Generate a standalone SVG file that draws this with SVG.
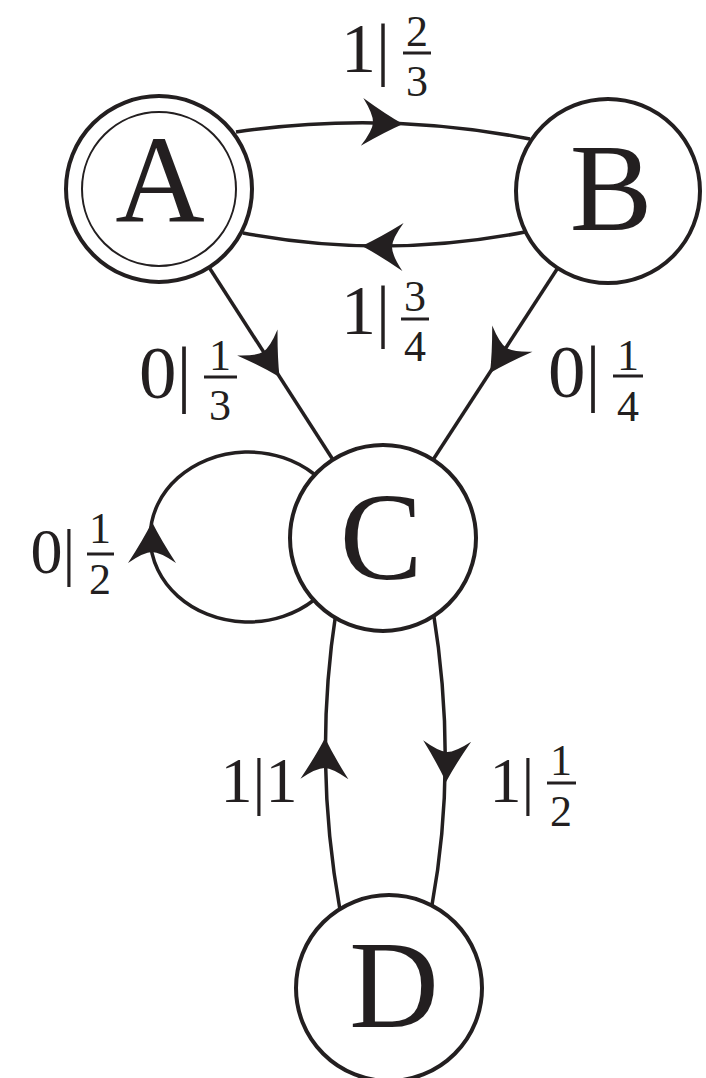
<svg xmlns="http://www.w3.org/2000/svg" xmlns:xlink="http://www.w3.org/1999/xlink" width="706" height="1078" viewBox="0 0 706 1078">
<style>
.node{fill:#fff;stroke:#231f20;stroke-width:4}
.inner{fill:none;stroke:#231f20;stroke-width:2}
.nl{font-family:"Liberation Serif",serif;font-size:124px;fill:#231f20;text-anchor:middle}
.edge{fill:none;stroke:#231f20;stroke-width:3.5}
.ah{fill:#231f20}
.lbl{font-family:"Liberation Serif",serif;font-size:70px;fill:#231f20}
.lbb{font-family:"Liberation Serif",serif;font-size:75px;fill:#231f20}
.lbs{font-family:"Liberation Serif",serif;font-size:64px;fill:#231f20}
.fr{font-family:"Liberation Serif",serif;font-size:44px;fill:#231f20;text-anchor:middle}
.fb{stroke:#231f20;stroke-width:3}
</style>
<defs>
<path id="ah" d="M0,0 Q-18,-9 -41,-24 Q-30,-8 -30,0 Q-30,8 -41,24 Q-18,9 0,0 Z"/>
</defs>
<rect width="706" height="1078" fill="#fff"/>
<g id="connectors">
<path class="edge" d="M236,132 Q383,110.5 530,139"/>
<path class="edge" d="M525,232 Q384,259.5 243,233"/>
<path class="edge" d="M205,261 L337,466"/>
<path class="edge" d="M561,263 L429,466"/>
<path class="edge" d="M314,474 A98 85 0 1 0 314,600"/>
<path class="edge" d="M433,610 Q458,763 432,905"/>
<path class="edge" d="M340,910 Q313,760 336,612"/>
<use href="#ah" class="ah" transform="translate(403,124) rotate(3)"/>
<use href="#ah" class="ah" transform="translate(362,246) rotate(181.5)"/>
<use href="#ah" class="ah" transform="translate(279.5,377) rotate(57.3)"/>
<use href="#ah" class="ah" transform="translate(490,373) rotate(123)"/>
<use href="#ah" class="ah" transform="translate(152,522) rotate(-90)"/>
<use href="#ah" class="ah" transform="translate(446,782) rotate(91.6)"/>
<use href="#ah" class="ah" transform="translate(325,738) rotate(-89.2)"/>
</g>
<g id="labels">
<g id="lab-AB"><text class="lbl" x="341" y="72">1|</text><line class="fb" x1="403" y1="53" x2="431" y2="53"/><text class="fr" x="417" y="46">2</text><text class="fr" x="417" y="96">3</text></g>
<g id="lab-BA"><text class="lbl" x="341" y="334">1|</text><line class="fb" x1="401" y1="319" x2="429" y2="319"/><text class="fr" x="415" y="311">3</text><text class="fr" x="415" y="361">4</text></g>
<g id="lab-AC"><text class="lbb" x="139" y="398">0|</text><line class="fb" x1="204" y1="377" x2="237" y2="377"/><text class="fr" x="220" y="370">1</text><text class="fr" x="220" y="420">3</text></g>
<g id="lab-BC"><text class="lbb" x="548" y="397">0|</text><line class="fb" x1="613" y1="376" x2="643" y2="376"/><text class="fr" x="628" y="370">1</text><text class="fr" x="628" y="421">4</text></g>
<g id="lab-CC"><text class="lbs" x="30.6" y="573">0|</text><line class="fb" x1="87" y1="554" x2="114" y2="554"/><text class="fr" x="100" y="543">1</text><text class="fr" x="100" y="594">2</text></g>
<g id="lab-DC"><text class="lbs" x="220.6" y="802">1|1</text></g>
<g id="lab-CD"><text class="lbs" x="489.6" y="802">1|</text><line class="fb" x1="547" y1="783" x2="576" y2="783"/><text class="fr" x="561" y="775">1</text><text class="fr" x="561" y="826">2</text></g>
</g>
<g id="node-A"><circle class="node" cx="159" cy="189" r="93"/><circle class="inner" cx="159" cy="189" r="77"/><text class="nl" x="160" y="222">A</text></g>
<g id="node-B"><circle class="node" cx="608" cy="191" r="92"/><text class="nl" x="611" y="230">B</text></g>
<g id="node-C"><circle class="node" cx="383" cy="538" r="93"/><text class="nl" x="381" y="579">C</text></g>
<g id="node-D"><circle class="node" cx="389" cy="988" r="93"/><text class="nl" x="394" y="1027">D</text></g>
</svg>
